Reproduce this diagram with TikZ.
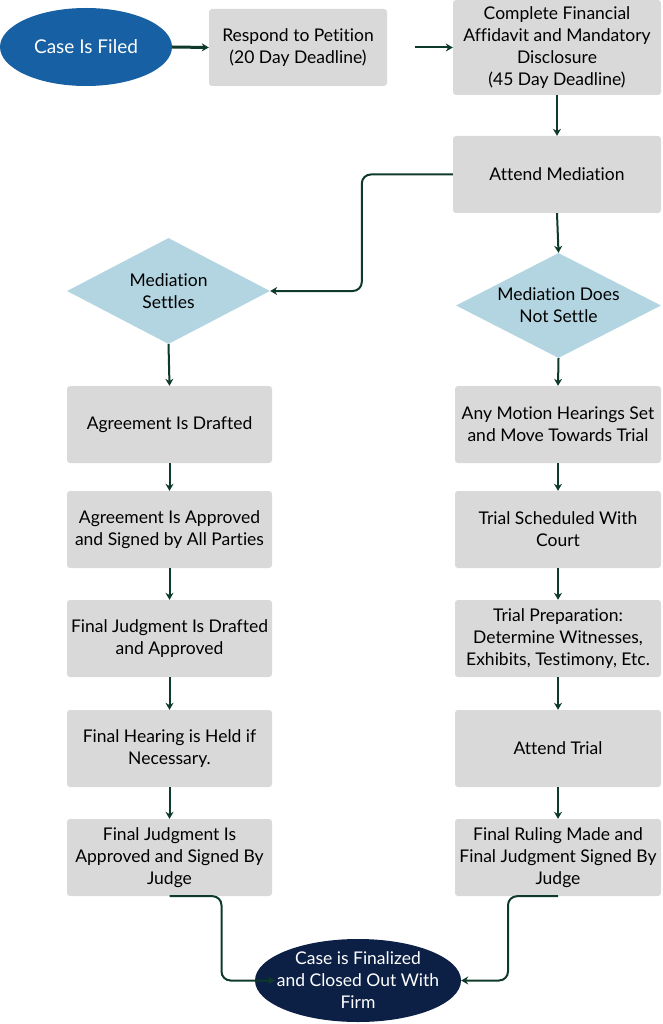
\documentclass[tikz,border=0pt]{standalone}
\usepackage{fontspec}
\setmainfont[Ligatures=NoCommon]{Lato}
\usetikzlibrary{shapes.geometric,arrows.meta}
\definecolor{boxgray}{HTML}{D9D9D9}
\definecolor{diamblue}{HTML}{B2D5E1}
\definecolor{startblue}{HTML}{1760A3}
\definecolor{endnavy}{HTML}{0C1F45}
\definecolor{arrowgreen}{HTML}{0E3B29}
\tikzset{
  stepbox/.style={fill=boxgray, rounded corners=3pt, inner sep=0pt, align=center,
    font=\fontsize{17.5}{22}\selectfont, text=black},
  decision/.style={diamond, aspect=2, fill=diamblue, inner xsep=-10pt, inner ysep=-6pt, align=center,
    font=\fontsize{17.5}{22}\selectfont, text=black},
  terminal/.style={ellipse, inner xsep=-30pt, inner ysep=-20pt, align=center, text=white,
    font=\fontsize{17.5}{22}\selectfont},
  flow/.style={draw=arrowgreen, line width=2pt, -{Stealth[length=7pt,width=8pt]}},
  bent/.style={flow, rounded corners=9pt},
}
\begin{document}
\begin{tikzpicture}[x=1pt,y=-1pt]
\useasboundingbox (0,0) rectangle (663,1024);
% top row
\node[terminal, fill=startblue, minimum width=172, minimum height=78, font=\fontsize{19}{22}\selectfont] (filed) at (86,47) {Case Is Filed};
\node[stepbox, minimum width=178, minimum height=77] (respond) at (298,47.5) {Respond to Petition\\(20 Day Deadline)};
\node[stepbox, minimum width=208, minimum height=95] (affidavit) at (557,47.5) {Complete Financial\\Affidavit and Mandatory\\Disclosure\\(45 Day Deadline)};
\node[stepbox, minimum width=208, minimum height=77] (attend) at (557,174.5) {Attend Mediation};
% decisions
\node[decision, minimum width=203, minimum height=106] (settles) at (168.5,291) {Mediation\\Settles};
\node[decision, minimum width=205, minimum height=105] (nosettle) at (558.5,305.5) {Mediation Does\\Not Settle};
% left column
\node[stepbox, minimum width=205, minimum height=77] (l1) at (169.5,424.5) {Agreement Is Drafted};
\node[stepbox, minimum width=205, minimum height=77] (l2) at (169.5,529.5) {Agreement Is Approved\\and Signed by All Parties};
\node[stepbox, minimum width=205, minimum height=77] (l3) at (169.5,638.5) {Final Judgment Is Drafted\\and Approved};
\node[stepbox, minimum width=205, minimum height=77] (l4) at (169.5,748.5) {Final Hearing is Held if\\Necessary.};
\node[stepbox, minimum width=205, minimum height=77] (l5) at (169.5,857.5) {Final Judgment Is\\Approved and Signed By\\Judge};
% right column
\node[stepbox, minimum width=206, minimum height=77] (r1) at (558,424.5) {Any Motion Hearings Set\\and Move Towards Trial};
\node[stepbox, minimum width=206, minimum height=77] (r2) at (558,529.5) {Trial Scheduled With\\Court};
\node[stepbox, minimum width=206, minimum height=77] (r3) at (558,638.5) {Trial Preparation:\\Determine Witnesses,\\Exhibits, Testimony, Etc.};
\node[stepbox, minimum width=206, minimum height=77] (r4) at (558,748.5) {Attend Trial};
\node[stepbox, minimum width=206, minimum height=77] (r5) at (558,857.5) {Final Ruling Made and\\Final Judgment Signed By\\Judge};
% end
\node[terminal, fill=endnavy, minimum width=206, minimum height=83] (final) at (358,980.5) {Case is Finalized\\and Closed Out With\\Firm};
% connectors
\draw[flow, line width=3pt] (filed.east) -- (respond.west);
\draw[flow] ([xshift=28pt]respond.east) -- (affidavit.west);
\draw[flow] (affidavit.south) -- (attend.north);
\draw[bent] (attend.west) -- ++(-91,0) |- (settles.east);
\draw[flow] (attend.south) -- (nosettle.north);
\draw[flow] (settles.south) -- (l1.north);
\draw[flow] (l1.south) -- (l2.north);
\draw[flow] (l2.south) -- (l3.north);
\draw[flow] (l3.south) -- (l4.north);
\draw[flow] (l4.south) -- (l5.north);
\draw[flow] (nosettle.south) -- (r1.north);
\draw[flow] (r1.south) -- (r2.north);
\draw[flow] (r2.south) -- (r3.north);
\draw[flow] (r3.south) -- (r4.north);
\draw[flow] (r4.south) -- (r5.north);
\draw[bent] (l5.south) -- ++(52,0) |- ([xshift=20pt]final.west);
\draw[bent] (r5.south) -- ++(-50,0) |- (final.east);
\end{tikzpicture}
\end{document}
